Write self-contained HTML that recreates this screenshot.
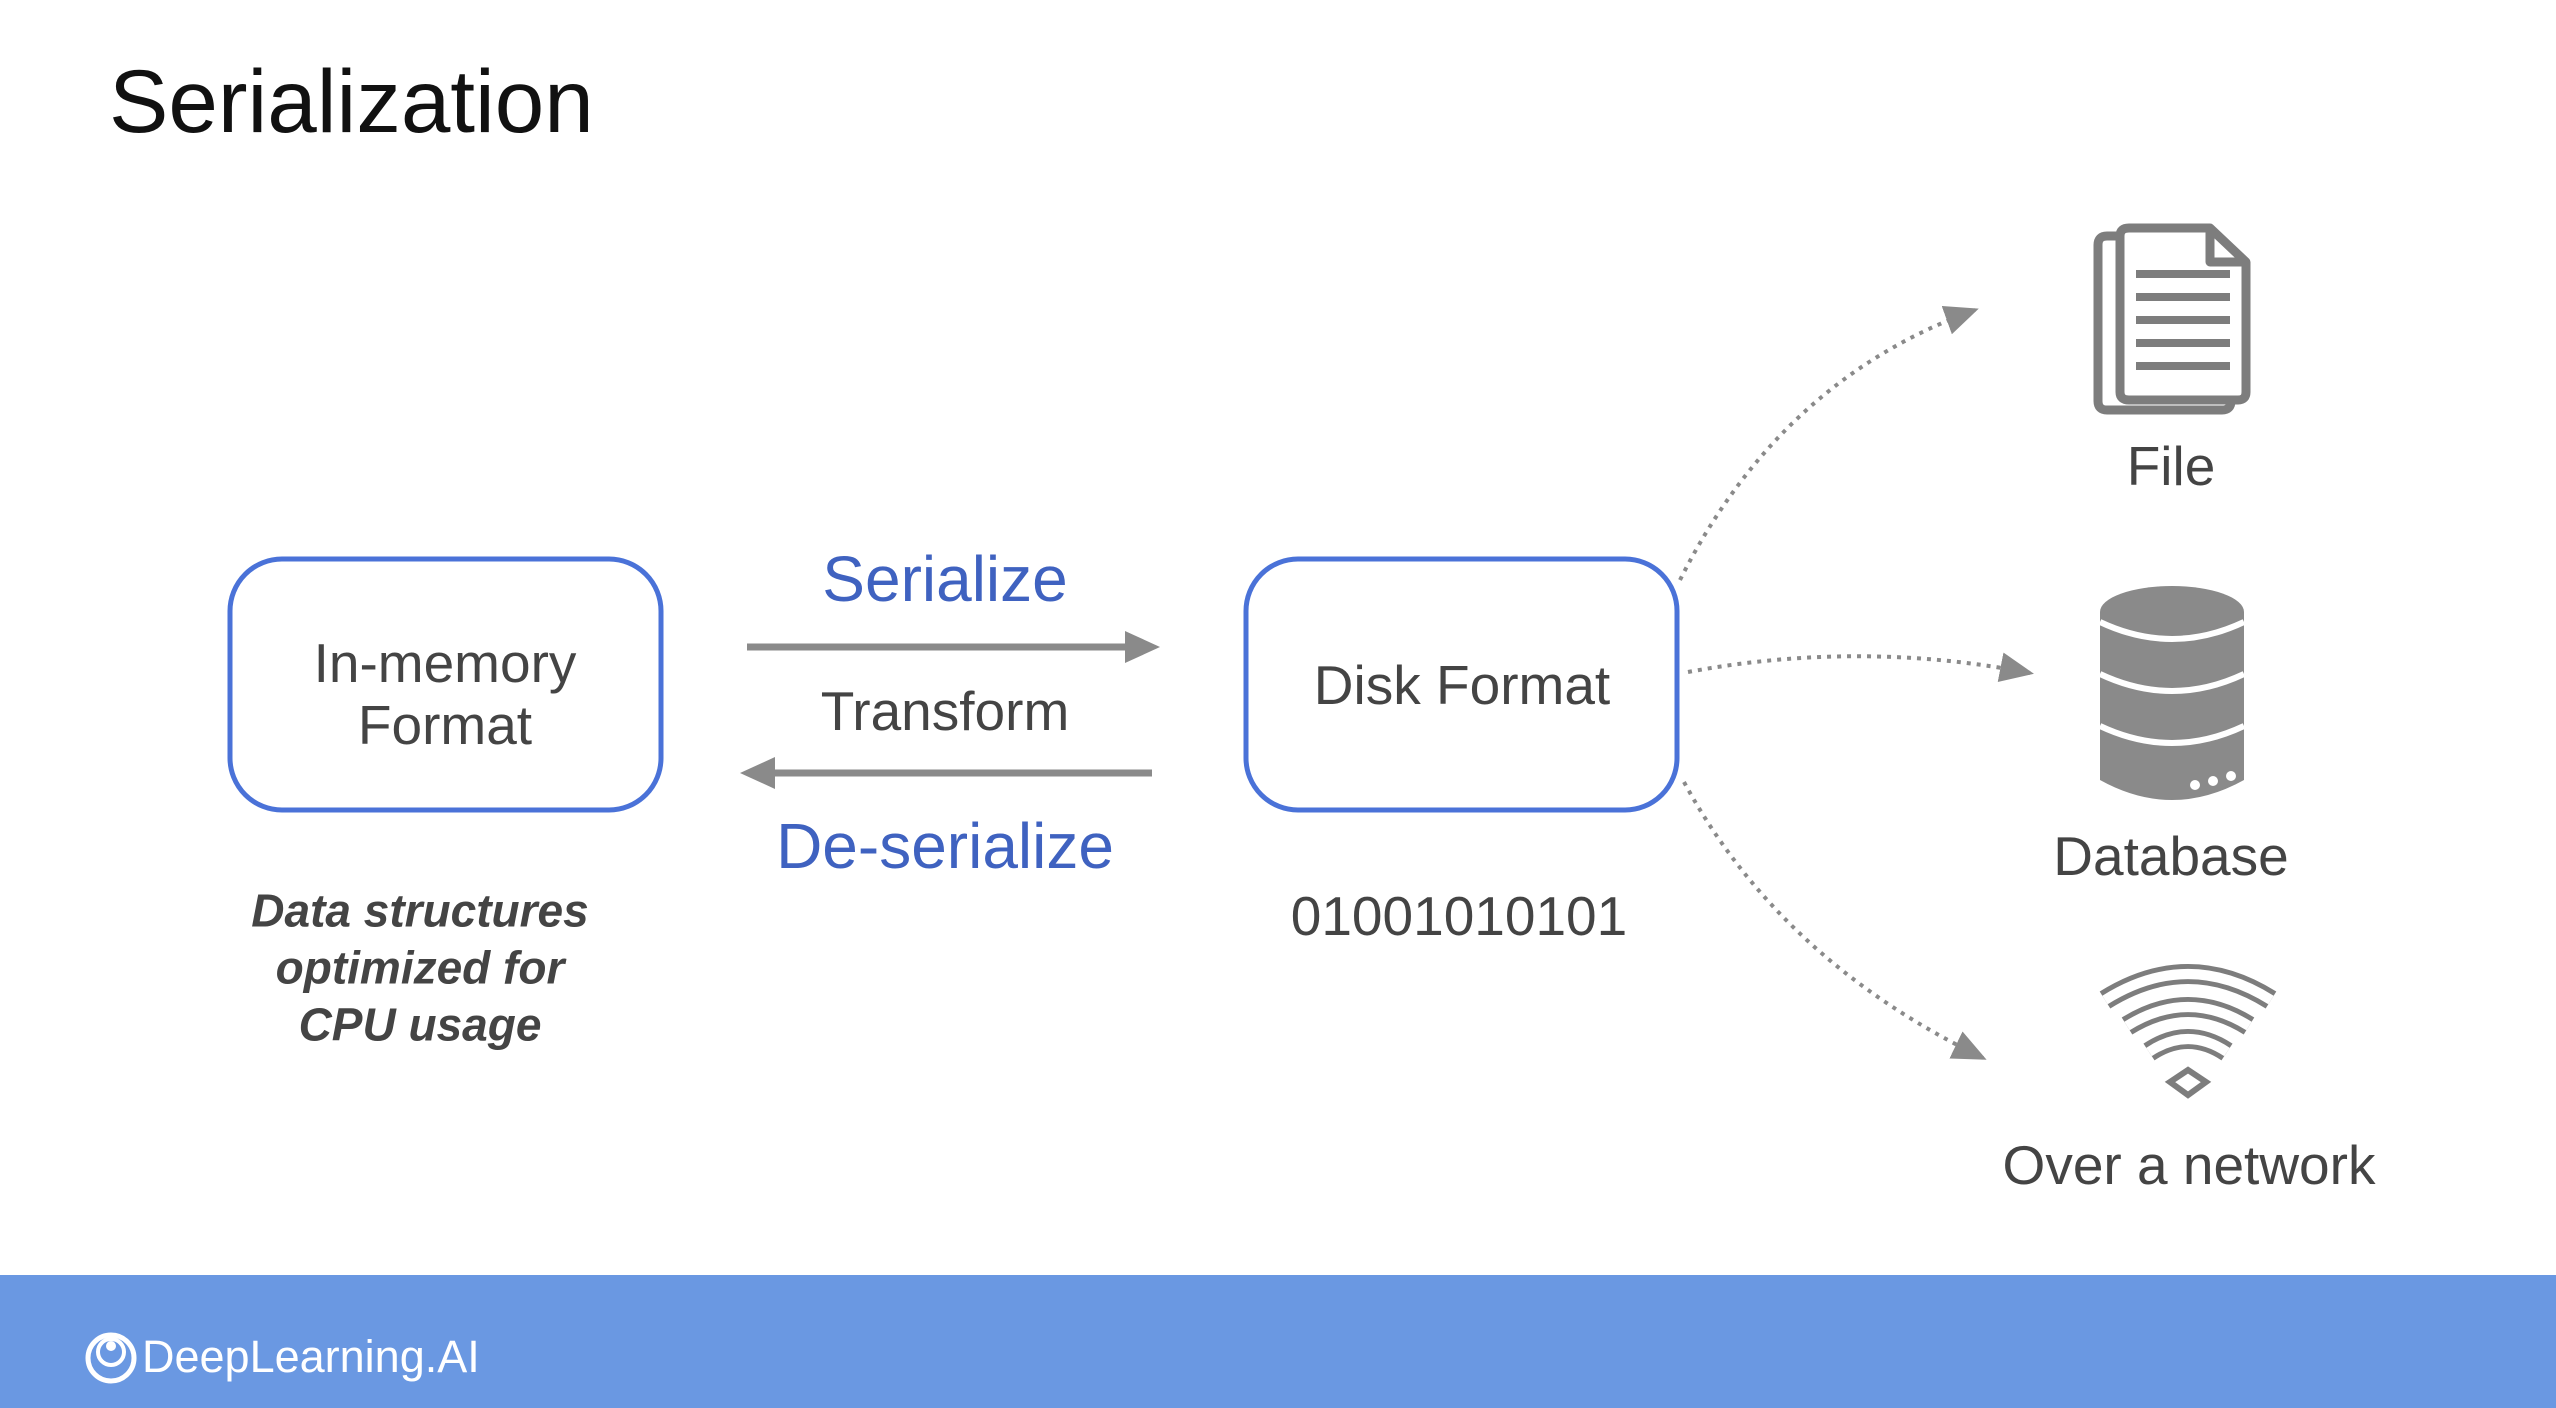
<!DOCTYPE html>
<html><head><meta charset="utf-8"><style>
html,body{margin:0;padding:0;background:#fff;}
body{width:2556px;height:1408px;position:relative;overflow:hidden;font-family:"Liberation Sans",Arial,sans-serif;}
.t{position:absolute;white-space:nowrap;transform:translate(-50%,-50%);}
</style></head><body>
<div style="position:absolute;left:109px;top:50px;font-size:89px;color:#111;">Serialization</div>

<svg width="2556" height="1408" style="position:absolute;left:0;top:0">
<defs>
<marker id="ad" markerWidth="34" markerHeight="30" refX="30" refY="15" orient="auto" markerUnits="userSpaceOnUse"><path d="M0,0 L34,15 L0,30 Z" fill="#8a8a8a"/></marker>
</defs>
<rect x="230" y="559" width="431" height="251" rx="52" fill="#fff" stroke="#4a72d8" stroke-width="5"/>
<rect x="1246" y="559" width="431" height="251" rx="52" fill="#fff" stroke="#4a72d8" stroke-width="5"/>
<line x1="747" y1="647" x2="1130" y2="647" stroke="#8a8a8a" stroke-width="7"/>
<path d="M1125,631 L1160,647 L1125,663 Z" fill="#8a8a8a"/>
<line x1="1152" y1="773" x2="770" y2="773" stroke="#8a8a8a" stroke-width="7"/>
<path d="M775,757 L740,773 L775,789 Z" fill="#8a8a8a"/>
<g fill="none" stroke="#8a8a8a" stroke-width="4" stroke-dasharray="4 6">
<path d="M1680,580 Q1780,380 1975,310" marker-end="url(#ad)"/>
<path d="M1688,672 Q1860,640 2030,673" marker-end="url(#ad)"/>
<path d="M1684,782 Q1780,960 1983,1058" marker-end="url(#ad)"/>
</g>
<!-- file icon -->
<g fill="none" stroke="#7d7d7d" stroke-width="9" stroke-linejoin="round">
<path d="M2117,236 L2107,236 Q2098,236 2098,245 L2098,401 Q2098,410 2107,410 L2222,410 Q2231,410 2231,401 L2231,398"/>
<path d="M2129,228 L2210,228 L2246,262 L2246,392 Q2246,400 2238,400 L2129,400 Q2120,400 2120,392 L2120,236 Q2120,228 2129,228 Z" fill="#fff"/>
<path d="M2210,228 L2210,262 L2246,262"/>
</g>
<g stroke="#7d7d7d" stroke-width="8">
<line x1="2136" y1="274" x2="2230" y2="274"/><line x1="2136" y1="297" x2="2230" y2="297"/>
<line x1="2136" y1="320" x2="2230" y2="320"/><line x1="2136" y1="343" x2="2230" y2="343"/>
<line x1="2136" y1="366" x2="2230" y2="366"/>
</g>
<!-- database -->
<path d="M2100,612 L2100,780 Q2172,820 2244,780 L2244,612 Z" fill="#8a8a8a"/>
<ellipse cx="2172" cy="612" rx="72" ry="26" fill="#8a8a8a"/>
<g fill="none" stroke="#fff" stroke-width="6">
<path d="M2100,622 Q2172,656 2244,622"/>
<path d="M2100,674 Q2172,708 2244,674"/>
<path d="M2100,726 Q2172,760 2244,726"/>
</g>
<g fill="#fff"><circle cx="2195" cy="785" r="5"/><circle cx="2213" cy="781" r="5"/><circle cx="2231" cy="776" r="5"/></g>
<!-- wifi -->
<g fill="none" stroke="#7d7d7d" stroke-width="20">
<path d="M2105,1000 Q2188,948 2271,1000"/>
<path d="M2127,1026 Q2188,988 2249,1026"/>
<path d="M2149,1052 Q2188,1026 2227,1052"/>
</g>
<g fill="none" stroke="#fff" stroke-width="10">
<path d="M2105,1000 Q2188,948 2271,1000"/>
<path d="M2127,1026 Q2188,988 2249,1026"/>
<path d="M2149,1052 Q2188,1026 2227,1052"/>
</g>
<path d="M2170,1082 L2188,1070 L2206,1082 L2188,1095 Z" fill="#fff" stroke="#7d7d7d" stroke-width="6"/>
<!-- footer -->
<rect x="0" y="1275" width="2556" height="133" fill="#6a98e2"/>
<circle cx="111" cy="1358" r="23" fill="none" stroke="#fff" stroke-width="5"/>
<circle cx="111" cy="1352" r="13" fill="none" stroke="#fff" stroke-width="4"/>
<circle cx="111" cy="1346" r="5" fill="#fff"/>
</svg>

<div class="t" style="left:945px;top:579px;font-size:64px;color:#3f62c0;">Serialize</div>
<div class="t" style="left:945px;top:711px;font-size:55px;color:#444;">Transform</div>
<div class="t" style="left:945px;top:846px;font-size:64px;color:#3f62c0;">De-serialize</div>
<div class="t" style="left:445px;top:694px;font-size:55px;color:#444;text-align:center;line-height:62px;">In-memory<br>Format</div>
<div class="t" style="left:1462px;top:685px;font-size:55px;color:#444;">Disk Format</div>
<div class="t" style="left:420px;top:968px;font-size:46px;color:#444;font-weight:bold;font-style:italic;text-align:center;line-height:57px;">Data structures<br>optimized for<br>CPU usage</div>
<div class="t" style="left:1459px;top:916px;font-size:55px;color:#444;">01001010101</div>
<div class="t" style="left:2171px;top:466px;font-size:55px;color:#444;">File</div>
<div class="t" style="left:2171px;top:856px;font-size:55px;color:#444;">Database</div>
<div class="t" style="left:2189px;top:1165px;font-size:55px;color:#444;">Over a network</div>
<div style="position:absolute;left:142px;top:1331px;font-size:45px;color:#fff;">DeepLearning.AI</div>
</body></html>
